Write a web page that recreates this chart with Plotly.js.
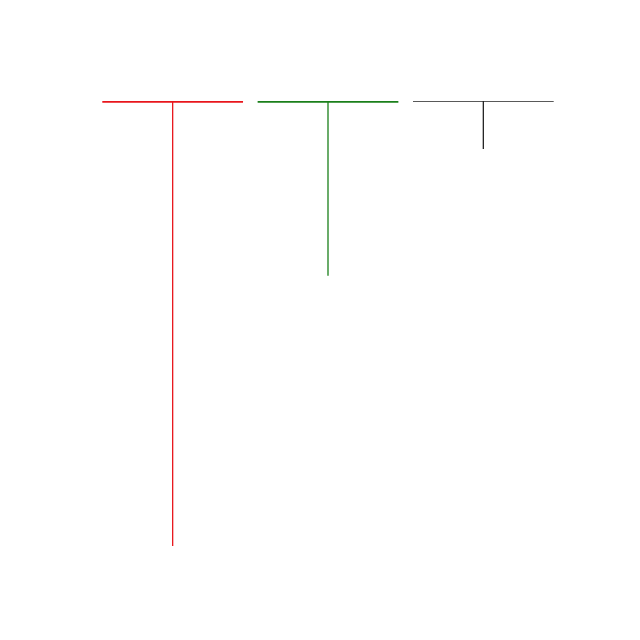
<!DOCTYPE html>
<html>
<head>
<meta charset="utf-8">
<script src="https://cdn.plot.ly/plotly-3.0.1.min.js"></script>
<style>html,body{margin:0;padding:0;background:#fff;}#chart{width:640px;height:640px;}</style>
</head>
<body>
<div id="chart"></div>
<script>
// Data
const categories = ["A", "B", "C"];
const centerValues = [0, 0, 0];
const lowerErrors = [4.46, 1.75, 0.48];
const colors = ["#e8161c", "#1a7f1a", "#222222"];
const lineWidths = [3.5, 3.5, 1.3];

const halfWidth = 0.453;
const traces = categories.map((c, i) => ({
  type: "scatter",
  mode: "lines",
  name: c,
  x: [i - halfWidth, i, i + halfWidth],
  y: [centerValues[i], centerValues[i], centerValues[i]],
  line: {color: colors[i], width: lineWidths[i]},
  error_y: {
    type: "data",
    symmetric: false,
    array: [0, 0, 0],
    arrayminus: [0, lowerErrors[i], 0],
    width: 0,
    thickness: 1.3,
    color: colors[i]
  },
  hoverinfo: "skip",
  showlegend: false
}));

const layout = {
  width: 640, height: 640,
  margin: {l: 94.5, r: 78.5, t: 100.5, b: 39.5},
  paper_bgcolor: "#ffffff",
  plot_bgcolor: "#ffffff",
  showlegend: false,
  xaxis: {range: [-0.5, 2.5], visible: false, showgrid: false, zeroline: false},
  yaxis: {range: [-5, 0], visible: false, showgrid: false, zeroline: false}
};

Plotly.newPlot("chart", traces, layout, {displayModeBar: false, staticPlot: true});
</script>
</body>
</html>
